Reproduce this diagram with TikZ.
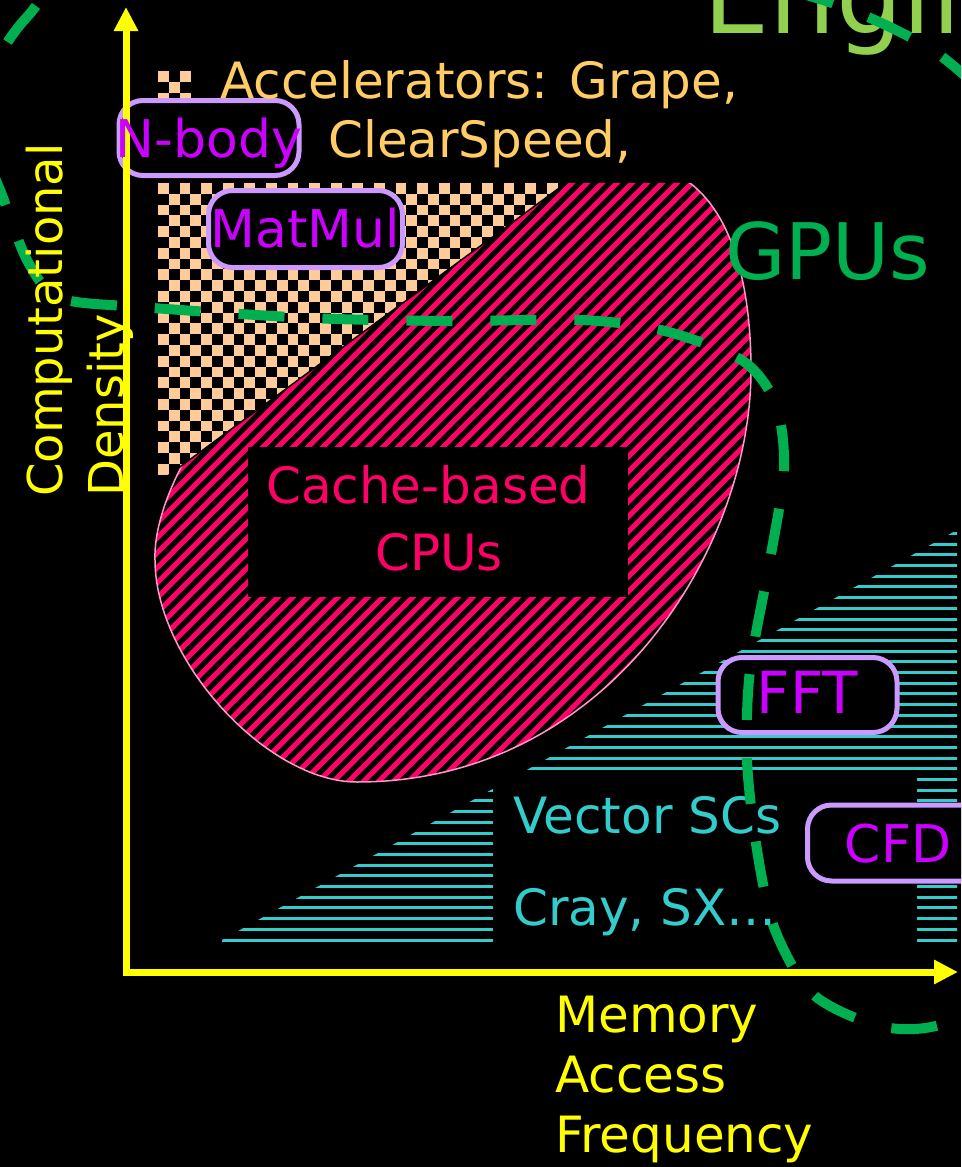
\documentclass[tikz,border=0pt]{standalone}
\usepackage{fontspec}
\setmainfont{DejaVu Sans}
\usetikzlibrary{arrows.meta,positioning,calc}
\definecolor{axisyellow}{HTML}{FFFF00}
\definecolor{accorange}{HTML}{FFCC66}
\definecolor{peach}{HTML}{FFCC99}
\definecolor{cachepink}{HTML}{FF0066}
\definecolor{rimpink}{HTML}{FF99CC}
\definecolor{gpugreen}{HTML}{00B050}
\definecolor{enggreen}{HTML}{92D050}
\definecolor{appviolet}{HTML}{CC00FF}
\definecolor{boxlilac}{HTML}{CC99FF}
\definecolor{vecteal}{HTML}{33CCCC}

\begin{document}
\begin{tikzpicture}[x=1pt, y=-1pt, >=Stealth,
    lbl/.style={inner sep=0pt, font=\fontsize{50}{60}\selectfont},
    bigl/.style={inner sep=0pt, font=\fontsize{78}{90}\selectfont},
    appbox/.style={draw=boxlilac, line width=5pt, rounded corners=24pt, fill=black, inner sep=0pt},
    apptext/.style={inner sep=0pt, text=appviolet, anchor=base, font=\fontsize{52}{60}\selectfont},
    axisline/.style={draw=axisyellow, line width=7pt, line join=miter,
        {Triangle[length=24pt,width=23pt]}-{Triangle[length=24pt,width=23pt]}},
    gpuline/.style={draw=gpugreen, line width=10pt, dash pattern=on 46pt off 38pt},
    pinkstripe/.style={draw=cachepink, line width=5pt},
    tealstripe/.style={draw=vecteal, line width=3pt}]
  \newcommand{\cacheblob}{(690,183) .. controls (738,220) and (751,300) .. (751,370)
    .. controls (751,550) and (607,782) .. (357,782)
    .. controls (267,782) and (155,660) .. (155,560)
    .. controls (152,480) and (250,300) .. (560,140)
    .. controls (600,130) and (650,152) .. (690,183) -- cycle}
  \useasboundingbox (0,0) rectangle (961,1167);
  \fill[black] (0,0) rectangle (961,1167);
  \clip (0,0) rectangle (961,1167);

  % cache-based CPUs: striped blob, cut flat on top
  \begin{scope}
    \clip (140,183) rectangle (800,800);
    \begin{scope}
      \clip \cacheblob;
      \foreach \k in {0,...,85}
        \draw[pinkstripe] ({-480+15*\k},800) -- ++(-45:1000);
    \end{scope}
    \draw[rimpink, line width=1.5pt] \cacheblob;
  \end{scope}

  % accelerators: checkerboard triangle
  \begin{scope}
    \clip (158,183) -- (566,183) -- (158,483) -- cycle;
    \fill[peach] (158,183) rectangle (566,483);
    \foreach \i in {0,2,...,38}
      \foreach \j in {0,2,...,28} {
        \fill[black] ({158+10.8*(\i+1)},{183+10.8*\j}) rectangle +(10.8,10.8);
        \fill[black] ({158+10.8*\i},{183+10.8*(\j+1)}) rectangle +(10.8,10.8);
      }
  \end{scope}
  \draw[black, line width=1.5pt] (566,183) -- (158,483);
  \fill[peach] (158,71) rectangle (191,100);
  \fill[black] (169,71) rectangle +(11,11);
  \fill[black] (158,82) rectangle +(11,11);
  \fill[black] (180,82) rectangle +(11,11);
  \fill[black] (169,93) rectangle +(11,7);

  \fill[black] (248,447) rectangle (628,597);
  \node[lbl, text=cachepink, anchor=base west] (cachetop) at (266,503) {Cache-based};
  \node[lbl, text=cachepink, anchor=base west] (cachebot) at (375,570) {CPUs};

  % vector supercomputers: horizontal lines
  \begin{scope}
    \clip (222,940) -- (957,530) -- (957,945) -- (222,945) -- cycle;
    \foreach \k in {0,...,39}
      \draw[tealstripe] (200,{940-10.7*\k}) -- (960,{940-10.7*\k});
  \end{scope}
  \fill[black] (493,772) rectangle (917,948);
  \node[lbl, text=vecteal, anchor=base west] (vectop) at (513,833) {Vector SCs};
  \node[lbl, text=vecteal, anchor=base west] (vecbot) at (513,925) {Cray, SX…};

  % application boxes
  \node[appbox, minimum width=180, minimum height=75] (nbody) at (209,138) {};
  \node[appbox, minimum width=194, minimum height=77] (matmul) at (305.5,229) {};
  \node[appbox, minimum width=179, minimum height=75] (fft) at (807.5,695) {};
  \node[appbox, minimum width=181, minimum height=76] (cfd) at (898,843) {};

  \draw[axisline] (126,7) -- (126,972) -- (958,972);

  \node[apptext] (nbodytxt) at ($(nbody.center)+(0,19)$) {N-body};
  \node[apptext] (matmultxt) at ($(matmul.center)+(0,18)$) {MatMul};
  \node[apptext, font=\fontsize{58}{60}\selectfont] (ffttxt) at ($(fft.center)+(0,18)$) {FFT};
  \node[apptext] (cfdtxt) at ($(cfd.center)+(0,19)$) {CFD};

  \node[lbl, text=accorange, anchor=base west] (acctop) at (220,98) {Accelerators: Grape,};
  \node[lbl, text=accorange, anchor=base west] (accbot) at (328,157) {ClearSpeed,};
  \node[bigl, text=gpugreen, anchor=base west] (gpus) at (725,279) {GPUs};
  \node[bigl, text=enggreen, anchor=base west, font=\fontsize{105}{110}\selectfont] (engi) at (703,33) {Engineering};

  % GPU region boundary
  \draw[gpuline] plot[smooth cycle, tension=0.5] coordinates {
    (27,17) (-12,80) (-18,140) (2,195) (28,262) (60,298) (140,307) (310,318)
    (450,321) (582,320) (665,331) (743,361) (776,405) (784,470) (770,560)
    (750,670) (747,760) (757,850) (775,930) (815,996) (890,1028) (960,1016)
    (1050,930) (1110,500) (1060,170) (975,85) (926,46) (851,10) (760,-18)
    (450,-100) (120,-60)};

  % axis labels
  \node[lbl, text=axisyellow, align=left, anchor=north west, font=\fontsize{50}{60}\selectfont]
       (xlbl) at (555,995.5) {Memory\\Access\\Frequency};
  \node[lbl, text=axisyellow, align=left, anchor=north west, rotate=90, font=\fontsize{48}{61}\selectfont]
       (ylbl) at (25.5,497) {Computational\\Density};
\end{tikzpicture}
\end{document}
